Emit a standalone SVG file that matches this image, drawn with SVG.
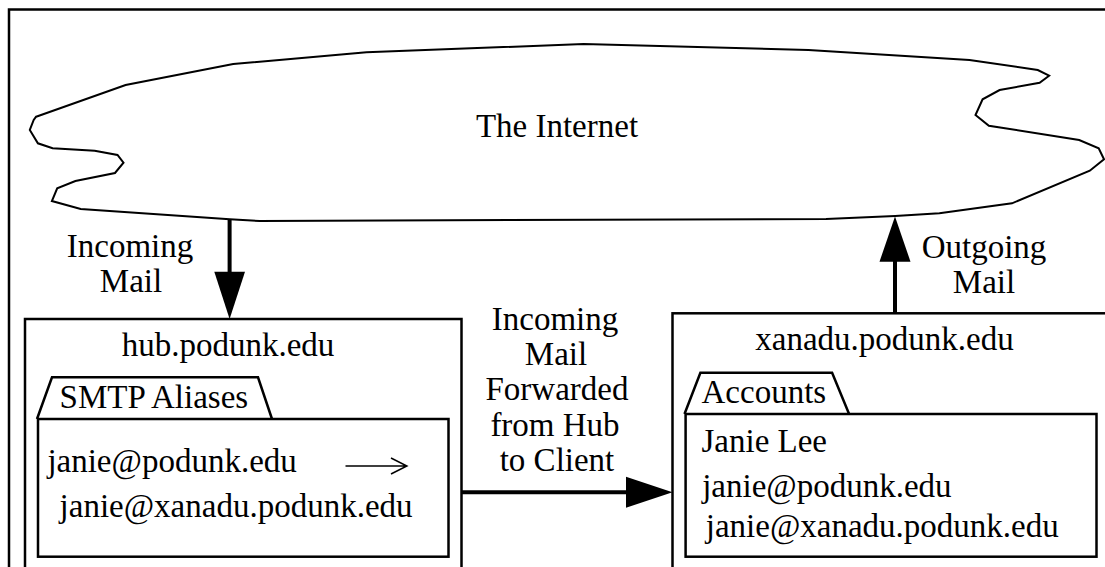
<svg xmlns="http://www.w3.org/2000/svg" width="1105" height="567" viewBox="0 0 1105 567">
<style>
text{font-family:"Liberation Serif","Times New Roman",serif;font-size:33px;fill:#000}
.c{text-anchor:middle}
.box{fill:none;stroke:#000;stroke-width:2.5}
.thin{fill:none;stroke:#000;stroke-width:2}
.conn{stroke:#000;stroke-width:4;fill:none}
.head{fill:#000;stroke:none}
</style>
<rect width="1105" height="567" fill="#fff"/>
<path class="box" d="M9,600 V9.5 H1110"/>
<g id="internet">
<polygon class="thin" points="36.1,116.7 125.6,85 233.2,64 366.5,52.3 583.6,44 808.4,50 969.5,60 1037.8,70 1049.1,75.7 1039.6,82.7 999.6,90 982.6,99.3 975.5,115 988.9,125.7 1079.2,140 1098.7,148.3 1104,159.3 1089.8,170.7 1012,203.3 939.4,213.3 895.1,216 826.1,219 259.6,221 229.7,219.3 80.7,209 51.9,201 57.2,188.3 75.4,181 115,173 123.5,162.7 117.5,155 94.7,150.7 52.6,148.3 37.9,143.3 29.8,130 33.7,120"/>
<text class="c" x="557" y="136.7">The Internet</text>
</g>
<g id="hub">
<rect class="box" x="25" y="319" width="436.5" height="300"/>
<text class="c" x="228" y="356">hub.podunk.edu</text>
<path class="box" d="M37,419 L52,377.3 H258 L272,419"/>
<rect class="box" x="38" y="419" width="410.5" height="137.7"/>
<text x="59.6" y="408.3">SMTP Aliases</text>
<text x="47.4" y="471.7">janie@podunk.edu</text>
<path fill="none" stroke="#000" stroke-width="1.5" d="M345.5,466 H406.5 M391,458 L406.9,466 L391,474"/>
<text x="59.6" y="516.7">janie@xanadu.podunk.edu</text>
</g>
<g id="xanadu">
<rect class="box" x="672.5" y="313.3" width="450" height="300"/>
<text class="c" x="884.5" y="350">xanadu.podunk.edu</text>
<path class="box" d="M684.5,414 L700.4,372.7 H832.1 L849.1,414"/>
<rect class="box" x="685.6" y="414" width="410.9" height="142.7"/>
<text x="701.5" y="403.3">Accounts</text>
<text x="701.5" y="451.7">Janie Lee</text>
<text x="702.2" y="496.7">janie@podunk.edu</text>
<text x="705.8" y="537.3">janie@xanadu.podunk.edu</text>
</g>
<g id="connectors">
<line class="conn" x1="229.6" y1="220" x2="229.6" y2="273"/>
<polygon class="head" points="214.3,271.7 245,271.7 229.6,319"/>
<line class="conn" x1="895" y1="260" x2="895" y2="313.3"/>
<polygon class="head" points="879.5,261.7 910.5,261.7 895,216.5"/>
<line class="conn" x1="461.5" y1="492.3" x2="628" y2="492.3"/>
<polygon class="head" points="626,476.8 626,507.8 672.5,492.3"/>
</g>
<g id="labels">
<text class="c" x="130" y="256.7">Incoming</text>
<text class="c" x="131" y="291.7">Mail</text>
<text class="c" x="984" y="258.3">Outgoing</text>
<text class="c" x="984" y="293.3">Mail</text>
<text class="c" x="555" y="330">Incoming</text>
<text class="c" x="556" y="365">Mail</text>
<text class="c" x="557" y="400">Forwarded</text>
<text class="c" x="555" y="435.5">from Hub</text>
<text class="c" x="557" y="470.5">to Client</text>
</g>
</svg>
